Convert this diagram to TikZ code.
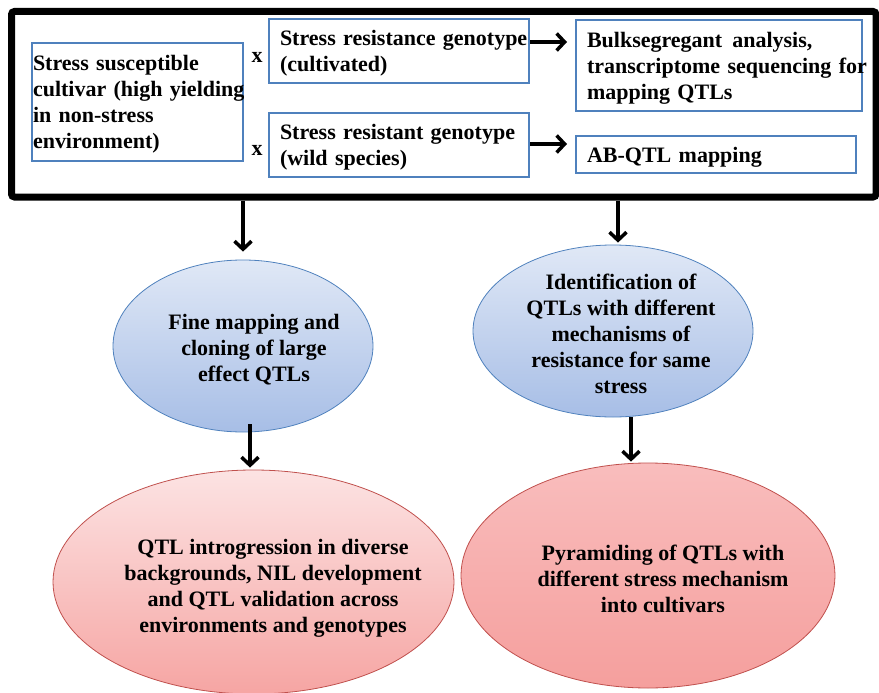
\documentclass[tikz,border=0pt]{standalone}
\usepackage{fontspec}
\setmainfont{Liberation Serif}
\usetikzlibrary{shapes.geometric,arrows.meta}
\definecolor{boxblue}{HTML}{4F81BD}
\definecolor{redline}{HTML}{C0504D}
\definecolor{bluetop}{HTML}{E0E8F6}
\definecolor{bluebot}{HTML}{A7BEE6}
\definecolor{redtopA}{HTML}{FCE3E3}
\definecolor{redbotA}{HTML}{F6A5A3}
\definecolor{redtopB}{HTML}{F9BDBD}
\definecolor{redbotB}{HTML}{F59F9D}
\tikzset{
  txt/.style={font=\bfseries\fontsize{22}{26}\selectfont},
  bx/.style={txt, draw=boxblue, line width=2pt, align=left, inner ysep=0pt, fill=white,
    execute at begin node={\rule{0pt}{20pt}}},
  frm/.style={draw=black, line width=7pt, rounded corners=3pt, inner sep=0pt},
  blueell/.style={ellipse, draw=boxblue, line width=0.8pt, top color=bluetop, bottom color=bluebot, inner sep=0pt},
  redellA/.style={ellipse, draw=redline, line width=0.8pt, top color=redtopA, bottom color=redbotA, inner sep=0pt},
  redellB/.style={ellipse, draw=redline, line width=0.8pt, top color=redtopB, bottom color=redbotB, inner sep=0pt},
  ell text/.style={txt, align=center, inner sep=0pt},
  arr/.style={draw=black, line width=3.5pt, -{Straight Barb[length=8pt,width=17pt]}},
}
\begin{document}
\begin{tikzpicture}[x=1pt,y=-1pt]
\useasboundingbox (0,0) rectangle (879,693);
% frame
\node[frm, minimum width=864.5pt, minimum height=185.5pt] (frame) at (443.75,104.25) {};
% boxes
\node[bx, minimum width=211pt, minimum height=118pt, text width=209pt, inner xsep=1pt] (L) at (137.5,102)
  {\mbox{Stress susceptible}\\\mbox{cultivar (high yielding}\\\mbox{in non-stress}\\\mbox{environment)}};
\node[bx, minimum width=260pt, minimum height=64pt, text width=238pt, inner xsep=11pt] (C1) at (399,51)
  {\mbox{Stress resistance genotype}\\\mbox{(cultivated)}};
\node[bx, minimum width=260pt, minimum height=64pt, text width=238pt, inner xsep=11pt] (C2) at (399,145)
  {\mbox{Stress resistant genotype}\\\mbox{(wild species)}};
\node[bx, minimum width=286pt, minimum height=91pt, text width=264pt, inner xsep=11pt] (B) at (719,65.5)
  {\mbox{Bulksegregant\hspace{10pt}analysis,}\\\mbox{transcriptome sequencing for}\\\mbox{mapping QTLs}};
\node[bx, minimum width=280pt, minimum height=37pt, text width=258pt, inner xsep=11pt] (A) at (716,154.5)
  {\mbox{AB-QTL mapping}};
\node[txt, inner sep=0pt] (x1) at (257,57) {x};
\node[txt, inner sep=0pt] (x2) at (257,150) {x};
% ellipses
\node[blueell, minimum width=260pt, minimum height=172pt] (e1) at (243,346) {};
\node[blueell, minimum width=280pt, minimum height=172pt] (e2) at (613,331) {};
\node[redellA, minimum width=401pt, minimum height=224pt] (e3) at (253.5,582) {};
\node[redellB, minimum width=374pt, minimum height=225pt] (e4) at (648,575.5) {};
\node[ell text] (t1) at (254,350) {Fine mapping and\\cloning of large\\effect QTLs};
\node[ell text] (t2) at (621,334) {Identification of\\QTLs with different\\mechanisms of\\resistance for same\\stress};
\node[ell text] (t3) at (273,588) {QTL introgression in diverse\\backgrounds, NIL development\\and QTL validation across\\environments and genotypes};
\node[ell text] (t4) at (663,579) {Pyramiding of QTLs with\\different stress mechanism\\into cultivars};
% arrows
\draw[arr] ([yshift=9pt]C1.east) -- ([yshift=9pt,xshift=-8pt]B.west |- C1.east);
\draw[arr] ([yshift=1pt]C2.east) -- ([yshift=1pt,xshift=-8pt]A.west |- C2.east);
\draw[arr] (frame.south -| e1.north) -- ([yshift=8pt]e1.north);
\draw[arr] ([xshift=5pt]frame.south -| e2.north) -- ([xshift=5pt,yshift=2pt]e2.north);
\draw[arr] ([xshift=-3.5pt,yshift=8pt]e3.north |- e1.south) -- ([xshift=-3.5pt,yshift=2pt]e3.north);
\draw[arr] ([xshift=-17pt]e4.north |- e2.south) -- ([xshift=-17pt,yshift=1pt]e4.north);
\end{tikzpicture}
\end{document}
